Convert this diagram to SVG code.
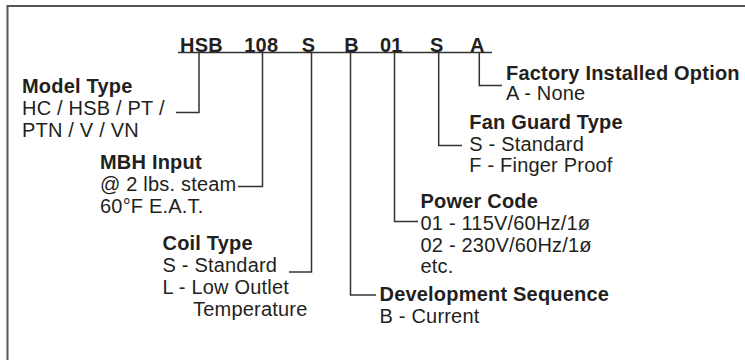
<svg xmlns="http://www.w3.org/2000/svg" width="745" height="360" viewBox="0 0 745 360">
<style>
text{font-family:"Liberation Sans",Arial,sans-serif;font-size:20px;fill:#231f20;letter-spacing:0.2px}
.b{font-weight:bold}
.c{fill:none;stroke:#333;stroke-width:1.5}
</style>
<rect x="0" y="0" width="745" height="360" fill="#fff"/>
<path d="M7.5,370 V6 H750" fill="none" stroke="#555" stroke-width="2"/>
<g id="header">
<text class="b" x="180" y="51.5">HSB</text>
<text class="b" x="244.3" y="51.5">108</text>
<text class="b" x="301.7" y="51.5">S</text>
<text class="b" x="344.3" y="51.5">B</text>
<text class="b" x="380" y="51.5">01</text>
<text class="b" x="430" y="51.5">S</text>
<text class="b" x="470" y="51.5">A</text>
</g>
<g id="connectors">
<path class="c" d="M178,52.5 H492"/>
<path class="c" d="M199,52.5 V112.5 H176"/>
<path class="c" d="M262.5,52.5 V186.5 H238"/>
<path class="c" d="M311.5,52.5 V272 H289"/>
<path class="c" d="M350.5,52.5 V295 H376"/>
<path class="c" d="M394.5,52.5 V221.5 H418"/>
<path class="c" d="M438.7,52.5 V145.5 H462"/>
<path class="c" d="M479.3,52.5 V85.5 H502"/>
</g>
<g id="model-type">
<text class="b" x="22" y="92.5">Model Type</text>
<text x="22" y="114.5">HC / HSB / PT /</text>
<text x="22" y="136.5">PTN / V / VN</text>
</g>
<g id="mbh-input">
<text class="b" x="100" y="169">MBH Input</text>
<text x="100" y="191">@ 2 lbs. steam</text>
<text x="100" y="213">60°F E.A.T.</text>
</g>
<g id="coil-type">
<text class="b" x="162.5" y="249.5">Coil Type</text>
<text x="162.5" y="271.5">S - Standard</text>
<text x="162.5" y="293.5">L - Low Outlet</text>
<text x="193" y="315.5">Temperature</text>
</g>
<g id="development-sequence">
<text class="b" x="379.5" y="301">Development Sequence</text>
<text x="379.5" y="323">B - Current</text>
</g>
<g id="power-code">
<text class="b" x="420.5" y="207.5">Power Code</text>
<text x="420.5" y="229.5">01 - 115V/60Hz/1ø</text>
<text x="420.5" y="251.5">02 - 230V/60Hz/1ø</text>
<text x="420.5" y="273">etc.</text>
</g>
<g id="fan-guard-type">
<text class="b" x="469.3" y="128.5">Fan Guard Type</text>
<text x="469.3" y="150.5">S - Standard</text>
<text x="469.3" y="172">F - Finger Proof</text>
</g>
<g id="factory-installed-option">
<text class="b" x="506" y="79.5">Factory Installed Option</text>
<text x="506" y="100">A - None</text>
</g>
</svg>
